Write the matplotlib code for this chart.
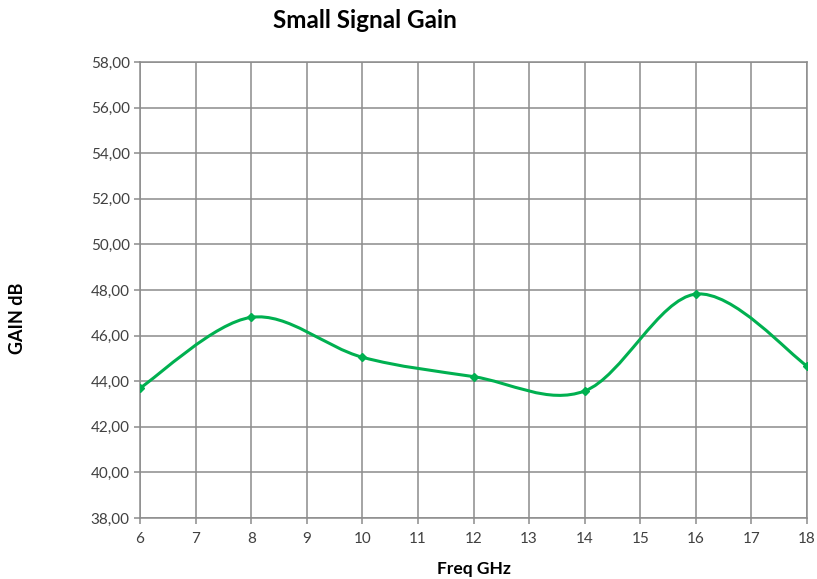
import numpy as np
import matplotlib
matplotlib.use("Agg")
import matplotlib.pyplot as plt
from matplotlib.path import Path
from matplotlib.patches import PathPatch
from matplotlib.ticker import FuncFormatter

plt.rcParams['font.family'] = ['Lato', 'DejaVu Sans']

# data
freq = [6, 8, 10, 12, 14, 16, 18]
gain = [43.7, 46.8, 45.05, 44.2, 43.57, 47.82, 44.67]
title = "Small Signal Gain"
xlabel = "Freq GHz"
ylabel = "GAIN dB"

green = "#00b050"
grid_col = "#8c8c8c"


def smooth_path(xs, ys):
    # excel-like smoothed line: cubic bezier with catmull-rom tangents
    pts = np.column_stack([xs, ys]).astype(float)
    n = len(pts)
    verts = [pts[0]]
    codes = [Path.MOVETO]
    for i in range(n - 1):
        p0 = pts[i - 1] if i > 0 else pts[i]
        p1 = pts[i]
        p2 = pts[i + 1]
        p3 = pts[i + 2] if i + 2 < n else pts[i + 1]
        c1 = p1 + (p2 - p0) / 6.0
        c2 = p2 - (p3 - p1) / 6.0
        verts += [c1, c2, p2]
        codes += [Path.CURVE4] * 3
    return Path(verts, codes)


fig = plt.figure(figsize=(8.17, 5.79), dpi=100)
ax = fig.add_axes([0.1714, 0.1054, 0.8164, 0.7875])

ax.add_patch(PathPatch(smooth_path(freq, gain), facecolor="none",
                       edgecolor=green, lw=2.2, zorder=3))
ax.plot(freq, gain, linestyle="none", marker="D", ms=4, color=green, zorder=4)

ax.set_xlim(6, 18)
ax.set_ylim(38, 58)
ax.set_xticks(range(6, 19))
ax.set_yticks(range(38, 59, 2))
ax.yaxis.set_major_formatter(FuncFormatter(lambda v, p: f"{v:.2f}".replace(".", ",")))

ax.grid(True, color=grid_col, lw=1.1)
ax.set_axisbelow(True)
for s in ax.spines.values():
    s.set_color(grid_col)
    s.set_linewidth(1.1)
ax.tick_params(axis="both", colors=grid_col, labelcolor="#404040",
               labelsize=11, length=4, width=1.1)
ax.tick_params(axis="x", pad=6)

fig.text(0.447, 0.965, title, ha="center", va="center", fontsize=17.5, fontweight="bold")
fig.text(0.58, 0.018, xlabel, ha="center", va="center", fontsize=12.5, fontweight="bold")
fig.text(0.022, 0.451, ylabel, ha="center", va="center", rotation=90,
         fontsize=13, fontweight="bold")

fig.savefig("out.png", dpi=100)
